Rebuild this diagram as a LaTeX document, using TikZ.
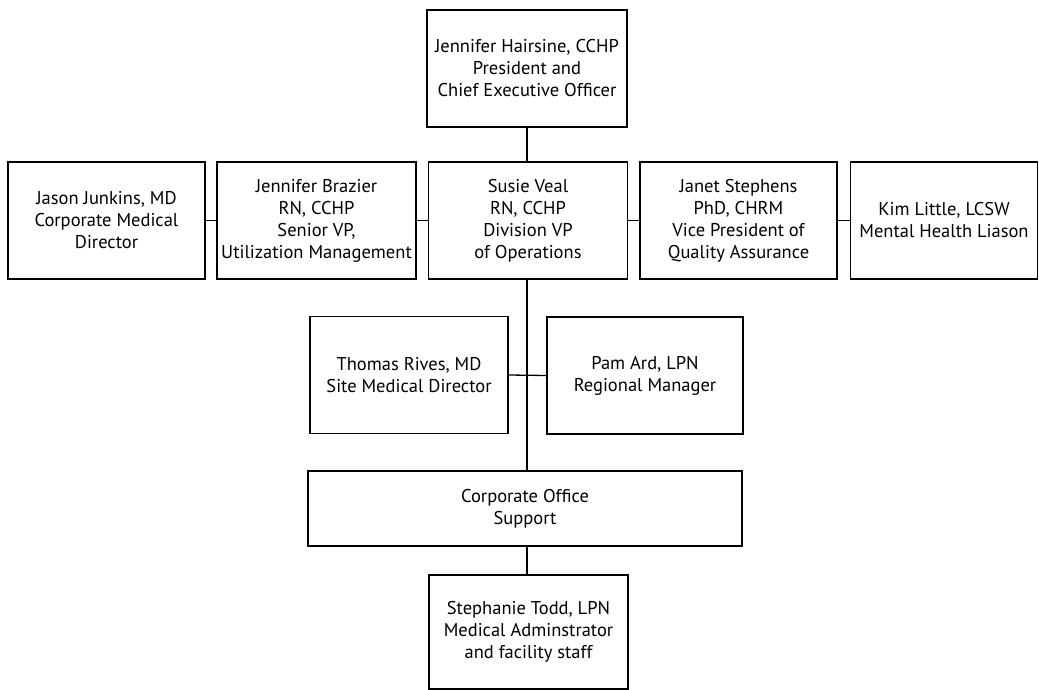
\documentclass[tikz,border=0pt]{standalone}
\usepackage{fontspec}
\setmainfont{PT Sans}
\begin{document}
\begin{tikzpicture}[x=1pt,y=-1pt,
  box/.style={draw=black, line width=1.3pt, align=center, inner sep=2pt,
    font=\fontsize{18.5}{22}\selectfont},
  link/.style={draw=black, line width=1.3pt}]
\useasboundingbox[fill=white] (0,0) rectangle (1039,690);
\node[box, minimum width=200pt, minimum height=117pt] (top) at (527,68.5)
  {Jennifer Hairsine, CCHP\\President and\\Chief Executive Officer};
\node[box, minimum width=197pt, minimum height=117pt] (jason) at (106.5,220.5)
  {Jason Junkins, MD\\Corporate Medical\\Director};
\node[box, minimum width=199pt, minimum height=117pt] (brazier) at (316.5,220.5)
  {Jennifer Brazier\\RN, CCHP\\Senior VP,\\Utilization Management};
\node[box, minimum width=199pt, minimum height=117pt] (susie) at (528,220.5)
  {Susie Veal\\RN, CCHP\\Division VP\\of Operations};
\node[box, minimum width=197pt, minimum height=117pt] (janet) at (738.5,220.5)
  {Janet Stephens\\PhD, CHRM\\Vice President of\\Quality Assurance};
\node[box, minimum width=187pt, minimum height=117pt] (kim) at (944,220.5)
  {Kim Little, LCSW\\Mental Health Liason};
\node[box, minimum width=198pt, minimum height=117pt] (thomas) at (409,375)
  {Thomas Rives, MD\\Site Medical Director};
\node[box, minimum width=196pt, minimum height=117pt] (pam) at (645,375.5)
  {Pam Ard, LPN\\Regional Manager};
\node[box, minimum width=434pt, minimum height=75pt] (corp) at (525,508.5)
  {Corporate Office\\Support};
\node[box, minimum width=199pt, minimum height=114pt] (todd) at (528.5,632)
  {Stephanie Todd, LPN\\Medical Adminstrator\\and facility staff};
\draw[link] (top.south) -- (top.south |- susie.north);
\draw[link] (jason.east) -- (brazier.west);
\draw[link] (brazier.east) -- (susie.west);
\draw[link] (susie.east) -- (janet.west);
\draw[link] (janet.east) -- (kim.west);
\draw[link] (top.south |- susie.south) -- (top.south |- corp.north);
\draw[link] (thomas.east) -- (pam.west);
\draw[link] (top.south |- corp.south) -- (top.south |- todd.north);
\end{tikzpicture}
\end{document}
